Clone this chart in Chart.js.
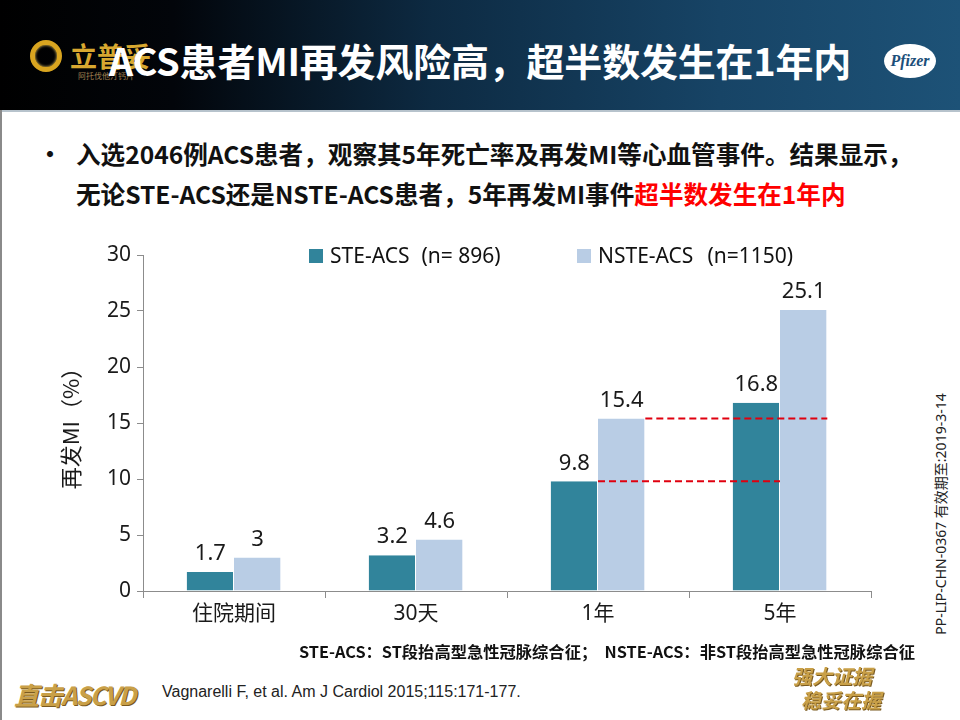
<!DOCTYPE html>
<html>
<head>
<meta charset="utf-8">
<script src="https://cdn.jsdelivr.net/npm/chart.js@4/dist/chart.umd.min.js"></script>
<style>
  html, body { margin: 0; padding: 0; background: #fff; }
  body { width: 960px; height: 720px; position: relative; overflow: hidden;
         font-family: "Noto Sans CJK SC", "Noto Sans", sans-serif; }
  .abs { position: absolute; white-space: nowrap; }
  .header { left: 0; top: 0; width: 960px; height: 110px;
            background: linear-gradient(90deg, #000 0%, #02050a 18%, #0d2a42 45%, #174466 75%, #1d5277 100%);
            border-bottom: 2px solid #b7c3cc; }
  .title { left: 0; width: 960px; top: 32px; text-align: center; color: #fff;
           font-weight: bold; font-size: 38px; letter-spacing: -0.2px; }
  .ring { left: 30px; top: 40px; width: 22px; height: 22px; border-radius: 50%;
          border: 5px solid #d9a520; box-shadow: 0 0 3px #f5d46a inset; }
  .brand { left: 70px; top: 36px; color: #d8a830; font-size: 27px; font-weight: bold; }
  .brand small { position: absolute; left: 8px; top: 34px; font-size: 8px; color: #a08050; font-weight: normal; }
  .pfizer { left: 884px; top: 44px; width: 52px; height: 34px; border-radius: 50%; background: #fff;
            color: #1c4f7a; font: italic bold 16px "Liberation Serif", serif; text-align: center; line-height: 34px; }
  .bullet { left: 38px; top: 135px; font-size: 24px; font-weight: bold; color: #111; }
  .line1 { left: 76px; top: 135px; font-size: 24.6px; font-weight: bold; color: #111; }
  .line2 { left: 76px; top: 175px; font-size: 24.6px; font-weight: bold; color: #111; }
  .red { color: #ff0000; }
  .legend { top: 241px; font-size: 21px; color: #111; font-family: "Noto Sans", "Noto Sans CJK SC", sans-serif; }
  .sw { display: inline-block; width: 14px; height: 14px; vertical-align: 0px; margin-right: 7px; }
  .note { right: 45px; top: 639px; font-size: 16.3px; font-weight: bold; color: #111; }
  .cite { left: 162px; top: 683px; font-size: 16px; color: #222; font-family: "Liberation Sans", Arial, sans-serif; }
  .vert { left: 940px; top: 514px; font-size: 14px; color: #222;
          transform: translate(-50%, -50%) rotate(-90deg); font-family: "Noto Sans", "Noto Sans CJK SC", sans-serif; }
  .gold1 { left: 14px; top: 676px; font-size: 25px; font-weight: bold; color: #c9a048; letter-spacing: -1.5px;
           font-style: italic; text-shadow: 1px 1px 0 #7a5a20; }
  .gold2 { left: 792px; top: 664px; font-size: 20px; line-height: 24px; font-weight: bold; color: #c9a048;
           font-style: italic; text-shadow: 1px 1px 0 #7a5a20; }
  .edge { left: 0; top: 110px; width: 2px; height: 610px; background: #8a8a8a; }
  #wrap { position: absolute; left: 40px; top: 235px; width: 850px; height: 410px; }
</style>
</head>
<body>
<div class="abs header"></div>
<div class="abs ring"></div>
<div class="abs brand">立普妥<small>阿托伐他汀钙片</small></div>
<div class="abs title">ACS患者MI再发风险高，超半数发生在1年内</div>
<div class="abs pfizer">Pfizer</div>
<div class="abs edge"></div>

<div class="abs bullet">•</div>
<div class="abs line1">入选2046例ACS患者，观察其5年死亡率及再发MI等心血管事件。结果显示，</div>
<div class="abs line2">无论STE-ACS还是NSTE-ACS患者，5年再发MI事件<span class="red">超半数发生在1年内</span></div>

<div id="wrap"><canvas id="chart" aria-label="再发MI chart"></canvas></div>

<div class="abs legend" style="left:309px"><span class="sw" style="background:#31849b"></span>STE-ACS<span style="margin-left:12px">(n= 896)</span></div>
<div class="abs legend" style="left:577px"><span class="sw" style="background:#b9cde5"></span>NSTE-ACS<span style="margin-left:14px">(n=1150)</span></div>

<div class="abs note">STE-ACS：ST段抬高型急性冠脉综合征；&nbsp;&nbsp;NSTE-ACS：非ST段抬高型急性冠脉综合征</div>
<div class="abs cite">Vagnarelli F, et al. Am J Cardiol 2015;115:171-177.</div>
<div class="abs vert">PP-LIP-CHN-0367 有效期至:2019-3-14</div>
<div class="abs gold1">直击ASCVD</div>
<div class="abs gold2">强大证据<br>&nbsp;&nbsp;稳妥在握</div>

<script>
const categories = ["住院期间", "30天", "1年", "5年"];
const steValues = [1.7, 3.2, 9.8, 16.8];
const nsteValues = [3, 4.6, 15.4, 25.1];
const yTicks = [0, 5, 10, 15, 20, 25, 30];
// dashed reference lines: dataset index, from category, to category
const refLines = [
  { dataset: 1, from: 2, to: 3 },
  { dataset: 0, from: 2, to: 3 },
];

const FONT = "'Noto Sans', 'Noto Sans CJK SC', sans-serif";

const valueLabels = {
  id: "valueLabels",
  afterDatasetsDraw(chart) {
    const ctx = chart.ctx;
    ctx.save();
    ctx.font = "22px " + FONT;
    ctx.fillStyle = "#1a1a1a";
    ctx.textAlign = "center";
    ctx.textBaseline = "bottom";
    chart.data.datasets.forEach((ds, i) => {
      chart.getDatasetMeta(i).data.forEach((bar, j) => {
        ctx.fillText(String(ds.data[j]), bar.x, bar.y - 7);
      });
    });
    ctx.restore();
  },
};

const dashedLines = {
  id: "dashedLines",
  afterDatasetsDraw(chart) {
    const ctx = chart.ctx;
    const y = chart.scales.y;
    ctx.save();
    ctx.strokeStyle = "#e0000f";
    ctx.lineWidth = 2;
    ctx.setLineDash([7, 4]);
    refLines.forEach((r) => {
      const meta = chart.getDatasetMeta(r.dataset);
      const a = meta.data[r.from];
      const b = meta.data[r.to];
      const py = y.getPixelForValue(chart.data.datasets[r.dataset].data[r.from]);
      ctx.beginPath();
      ctx.moveTo(a.x + a.width / 2, py);
      ctx.lineTo(b.x + b.width / 2, py);
      ctx.stroke();
    });
    ctx.restore();
  },
};

new Chart(document.getElementById("chart"), {
  type: "bar",
  data: {
    labels: categories,
    datasets: [
      {
        label: "STE-ACS (n= 896)",
        data: steValues,
        backgroundColor: "#31849b",
        borderColor: "#ffffff",
        borderWidth: { right: 1 },
        borderSkipped: "bottom",
      },
      {
        label: "NSTE-ACS (n=1150)",
        data: nsteValues,
        backgroundColor: "#b9cde5",
        borderColor: "#ffffff",
        borderWidth: { right: 1 },
        borderSkipped: "bottom",
      },
    ],
  },
  options: {
    responsive: true,
    maintainAspectRatio: false,
    animation: false,
    categoryPercentage: 0.52,
    barPercentage: 1,
    layout: { padding: { top: 20, right: 19, bottom: 0, left: 0 } },
    plugins: {
      legend: { display: false },
      tooltip: { enabled: false },
    },
    scales: {
      x: {
        grid: { offset: true, drawOnChartArea: false, tickLength: 7, color: "#8c8c8c" },
        border: { color: "#8c8c8c" },
        ticks: { font: { family: FONT, size: 21 }, color: "#1a1a1a", padding: 3 },
        afterFit(scale) { scale.height = 54; },
      },
      y: {
        min: 0,
        max: 30,
        afterBuildTicks(scale) { scale.ticks = yTicks.map((v) => ({ value: v })); },
        grid: { drawOnChartArea: false, tickLength: 6, color: "#8c8c8c" },
        border: { color: "#8c8c8c" },
        ticks: { font: { family: FONT, size: 21 }, color: "#1a1a1a", padding: 6 },
        title: {
          display: true,
          text: "再发MI（%）",
          font: { family: "'Noto Sans CJK SC', sans-serif", size: 22 },
          color: "#1a1a1a",
          padding: { top: 17, bottom: 0 },
        },
        afterFit(scale) { scale.width = 103; },
      },
    },
  },
  plugins: [valueLabels, dashedLines],
});
</script>
</body>
</html>
